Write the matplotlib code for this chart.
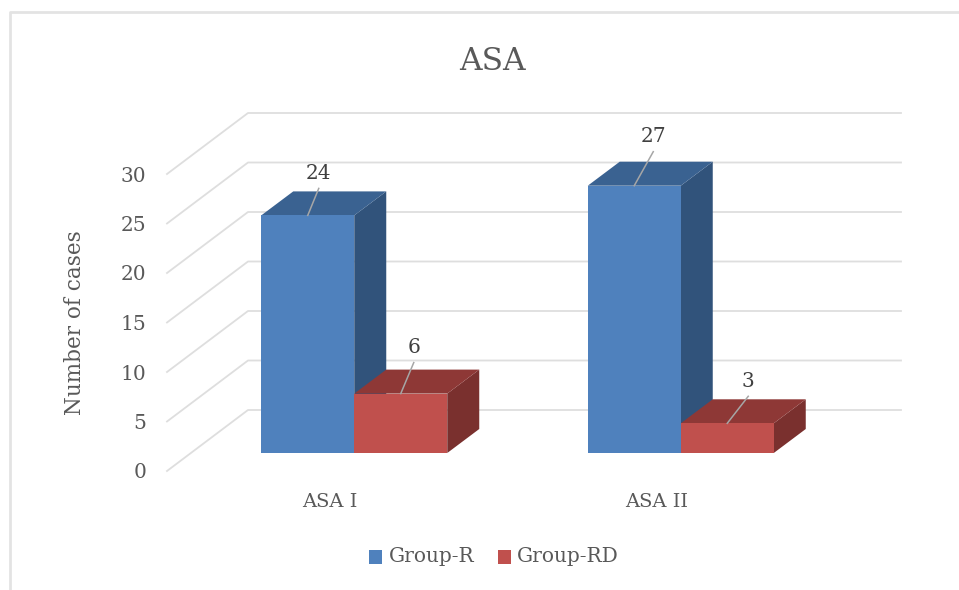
import matplotlib
matplotlib.use('Agg')
import matplotlib.pyplot as plt
from matplotlib.patches import Polygon, Rectangle
from matplotlib.transforms import Affine2D, IdentityTransform

categories = ['ASA I', 'ASA II']
group_r = [24, 27]
group_rd = [6, 3]
y_ticks = [0, 5, 10, 15, 20, 25, 30]

# leader line length for each value label, in pixels
leaders_r = [(11, 27), (19, 34)]
leaders_rd = [(13, 31), (21, 27)]

plt.rcParams['font.family'] = ['DejaVu Serif']

W, H = 959, 590
fig = plt.figure(figsize=(W / 100, H / 100), dpi=100)
fig.patch.set_facecolor('white')
pix = IdentityTransform()

# front plane of the bars, in pixels
x0, x1 = 191, 844
y0, y1 = H - 453, H - 156
ax = fig.add_axes([x0 / W, y0 / H, (x1 - x0) / W, (y1 - y0) / H])
ax.set_xlim(-0.5, 1.5)
ax.set_ylim(0, 30)
ax.patch.set_visible(False)
for s in ax.spines.values():
    s.set_visible(False)

# grid: side wall plus back wall
grid_col = '#dedede'
for v in y_ticks:
    a = ax.transData.transform((-0.5, v))
    b = ax.transData.transform((1.5, v))
    xs = [a[0] - 24, a[0] + 57, b[0] + 57]
    ys = [a[1] - 18, a[1] + 43, b[1] + 43]
    ax.plot(xs, ys, color=grid_col, lw=1.3, transform=pix, zorder=1, clip_on=False)

bar_w = 93 / 326.5
ddx, ddy = 32, 24  # bar depth in pixels


def bar3d(xl, val, front, top, side, z):
    xr = xl + bar_w
    tb = ax.transData.transform([(xl, val), (xr, val), (xr, 0)])
    pts_side = [tb[2], tb[1], tb[1] + (ddx, ddy), tb[2] + (ddx, ddy)]
    pts_top = [tb[0], tb[1], tb[1] + (ddx, ddy), tb[0] + (ddx, ddy)]
    ax.add_patch(Polygon(pts_side, closed=True, fc=side, ec='none', transform=pix, zorder=z, clip_on=False))
    ax.add_patch(Polygon(pts_top, closed=True, fc=top, ec='none', transform=pix, zorder=z, clip_on=False))
    ax.add_patch(Rectangle((xl, 0), bar_w, val, fc=front, ec='none', zorder=z + 0.1, clip_on=False))


blue = ('#4f81bd', '#3a6291', '#31537b')
red = ('#c0504d', '#8e3836', '#7a302e')
label_col = '#595959'
text_col = '#404040'

for i, cat in enumerate(categories):
    bar3d(i - bar_w, group_r[i], *blue, 3)
    bar3d(i, group_rd[i], *red, 4)

# value labels with short leader lines
for i in range(len(categories)):
    for xc, val, lead in [(i - bar_w / 2, group_r[i], leaders_r[i]),
                          (i + bar_w / 2, group_rd[i], leaders_rd[i])]:
        p = ax.transData.transform((xc, val))
        ax.plot([p[0], p[0] + lead[0]], [p[1], p[1] + lead[1]], color='#a6a6a6', lw=1.1,
                transform=pix, zorder=6, clip_on=False)
        ax.text(p[0] + lead[0], p[1] + lead[1] + 15, str(val), transform=pix, ha='center', va='center',
                fontsize=14.5, color=text_col, zorder=7)

# axis labels sit on the front edge of the floor
ax.set_xticks(range(len(categories)))
ax.set_xticklabels(categories, fontsize=14, color=label_col)
ax.tick_params(axis='x', length=0, pad=15.5)
ax.set_yticks(y_ticks)
ax.set_yticklabels([str(v) for v in y_ticks], fontsize=14.5, color=label_col)
ax.tick_params(axis='y', length=0, pad=15)
for lab in ax.get_xticklabels() + ax.get_yticklabels():
    lab.set_transform(lab.get_transform() + Affine2D().translate(-24, -18))

fig.text(75 / W, 1 - 322.5 / H, 'Number of cases', rotation=90, ha='center', va='center',
         fontsize=15.5, color=label_col)
fig.text(492.5 / W, 1 - 62 / H, 'ASA', ha='center', va='center', fontsize=22.5, color=label_col)

# legend squares and names
for lx, col in [(369, blue[0]), (498, red[0])]:
    fig.add_artist(Rectangle((lx / W, 1 - 564 / H), 13 / W, 14 / H, fc=col, ec='none', transform=fig.transFigure))
fig.text(389 / W, 1 - 557 / H, 'Group-R', ha='left', va='center', fontsize=14.5, color=label_col)
fig.text(517 / W, 1 - 557 / H, 'Group-RD', ha='left', va='center', fontsize=14.5, color=label_col)

# chart frame, left and top edges only
frame = '#e3e3e3'
fig.add_artist(plt.Line2D([10 / W, 10 / W, 1], [0, 1 - 12 / H, 1 - 12 / H], color=frame, lw=2))

fig.savefig('out.png', dpi=100)
